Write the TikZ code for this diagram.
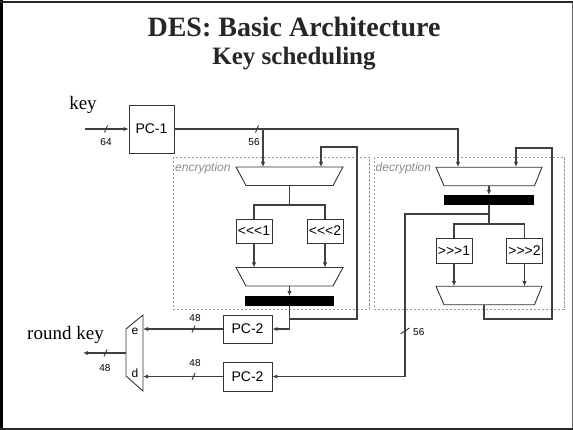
\documentclass[tikz,border=0pt]{standalone}
\usepackage{fontspec}
\setmainfont{Liberation Serif}
\setsansfont{Liberation Sans}
\usetikzlibrary{arrows.meta,calc}

\begin{document}
\begin{tikzpicture}[x=1pt,y=-1pt,
  wire/.style={draw=black!75, line width=1.1pt},
  arr/.style={wire, -{Latex[length=5pt,width=4.5pt]}},
  blk/.style={draw=black!80, line width=0.9pt, fill=white, inner sep=0pt,
              font=\sffamily\fontsize{14}{14}\selectfont},
  muxbb/.style={inner sep=0pt, outer sep=0pt, minimum width=107pt, minimum height=18.5pt},
  muxline/.style={draw=black!80, line width=0.9pt, fill=white},
  keybar/.style={fill=black, inner sep=0pt, outer sep=0pt, minimum width=90pt, minimum height=10pt},
  region/.style={draw=black!40, line width=0.7pt, dash pattern=on 2.5pt off 1.5pt},
  regtag/.style={text=black!45, font=\sffamily\itshape\fontsize{12}{12}\selectfont, inner sep=0pt},
  buswidth/.style={font=\sffamily\fontsize{10}{10}\selectfont, inner sep=0pt},
  slash/.style={draw=black!80, line width=0.9pt},
  lbl/.style={font=\fontsize{19}{19}\selectfont, inner sep=0pt}
]
\useasboundingbox (0,0) rectangle (573,430);

% slide frame
\draw[black!60, line width=1pt] (1,1.5) rectangle (572,428.5);
\draw[black, line width=2.6pt] (1.8,0) -- (1.8,430);
\draw[black!85, line width=1.8pt] (0,1.8) -- (573,1.8);
\draw[black!85, line width=1.8pt] (0,428.6) -- (573,428.6);

% headings
\node[font=\bfseries\fontsize{28}{28}\selectfont, text=black!85, anchor=base, inner sep=0pt]
  (title) at (294,37) {DES: Basic Architecture};
\node[font=\bfseries\fontsize{25}{25}\selectfont, text=black!85, anchor=base, inner sep=0pt]
  (subtitle) at (294,65) {Key scheduling};

% dashed regions
\draw[region] (173,157) rectangle (369,309.5);
\draw[region] (374,157) rectangle (564,309.5);
\node[regtag, anchor=base west] (enctag) at (175,172) {encryption};
\node[regtag, anchor=base west] (dectag) at (375.5,172) {decryption};

% key input and PC-1
\node[lbl, anchor=base] (keytxt) at (83,110) {key};
\node[blk, minimum width=45pt, minimum height=48pt] (pc1) at (151.5,129) {PC-1};
\coordinate (keyin) at (85,129);
\draw[arr] (keyin) -- (pc1.west);
\draw[slash] (106,129) ++(-1.5,3.5) -- ++(3,-7);
\node[buswidth] (w64) at (106,142) {64};

% ---------------- encryption path ----------------
\node[muxbb] (em1) at (289.5,176.25) {};
\draw[muxline] (em1.north west) -- (em1.north east) -- ([xshift=-10pt]em1.south east)
  -- ([xshift=10pt]em1.south west) -- cycle;
\coordinate (em1a) at (263,167);
\coordinate (em1b) at (321,167);

\node[blk, minimum width=36pt, minimum height=24pt] (sl1) at (254,231) {<\kern0pt<\kern0pt<1};
\node[blk, minimum width=36pt, minimum height=24pt] (sl2) at (325,231) {<\kern0pt<\kern0pt<2};

\node[muxbb] (em2) at (289.5,276.75) {};
\draw[muxline] (em2.north west) -- (em2.north east) -- ([xshift=-10pt]em2.south east)
  -- ([xshift=10pt]em2.south west) -- cycle;

\node[keybar, minimum width=89pt] (ebar) at (289.5,301) {};

\node[blk, minimum width=49pt, minimum height=28pt] (pce) at (247.5,329) {PC-2};

\coordinate (esplit) at (289.5,205);
\coordinate (efb) at (289.5,319);
\coordinate (eloop) at (357,147);

\draw[wire] (em1.south) -- (esplit);
\draw[wire] (sl1.north) |- (esplit) -| (sl2.north);
\draw[arr] (sl1.south) -- (sl1.south |- em2.north);
\draw[arr] (sl2.south) -- (sl2.south |- em2.north);
\draw[arr] (em2.south) -- (ebar.north);
\draw[arr] (ebar.south) |- (pce.east);
\draw[arr] (efb) -| (eloop) -| (em1b);

% ---------------- decryption path ----------------
\node[muxbb, minimum width=106pt] (dm1) at (489,176.5) {};
\draw[muxline] (dm1.north west) -- (dm1.north east) -- ([xshift=-7.5pt]dm1.south east)
  -- ([xshift=8pt]dm1.south west) -- cycle;
\coordinate (dm1a) at (458,167);
\coordinate (dm1b) at (516,167);

\node[keybar] (dbar) at (489,200) {};

\node[blk, minimum width=36pt, minimum height=25pt] (ds1) at (454,250.5) {>\kern0pt>\kern0pt>1};
\node[blk, minimum width=36pt, minimum height=25pt] (ds2) at (524.5,250.5) {>\kern0pt>\kern0pt>2};

\node[muxbb, minimum width=106pt] (dm2) at (489,295.5) {};
\draw[muxline] (dm2.north west) -- (dm2.north east) -- ([xshift=-7.5pt]dm2.south east)
  -- ([xshift=8pt]dm2.south west) -- cycle;

\node[blk, minimum width=49pt, minimum height=29pt] (pcd) at (247.5,376.5) {PC-2};

\coordinate (dtap) at (489,214);
\coordinate (dsplit) at (489,224);
\coordinate (dturn) at (405,214);
\coordinate (dfb) at (552,319);
\coordinate (dloop) at (552,148);

\draw[arr] (dm1.south) -- (dbar.north);
\draw[wire] (dbar.south) -- (dsplit);
\draw[wire] (ds1.north) |- (dsplit) -| (ds2.north);
\draw[arr] (ds1.south) -- (ds1.south |- dm2.north);
\draw[arr] (ds2.south) -- (ds2.south |- dm2.north);
\draw[arr] ([xshift=-5pt]dm2.south) |- (dfb) -- (dloop) -| (dm1b);
\draw[arr] (dtap) -- (dturn) |- (pcd.east);
\draw[slash] (405,331) ++(-4.5,3) -- ++(9,-6);
\node[buswidth, anchor=west] (w56b) at (413,332) {56};

% PC-1 output feeding both directions
\draw[arr] (pc1.east) -| (dm1a);
\draw[arr] (em1a |- pc1.east) -- (em1a);
\draw[slash] (257,129) ++(-1.5,3.5) -- ++(3,-7);
\node[buswidth] (w56a) at (254,142) {56};

% ---------------- output selector ----------------
\node[inner sep=0pt, outer sep=0pt, minimum width=17pt, minimum height=76pt] (omux) at (134.5,353) {};
\draw[muxline] ([yshift=-14pt]omux.north west) -- (omux.north east) -- (omux.south east)
  -- ([yshift=15pt]omux.south west) -- cycle;
\node[font=\sffamily\fontsize{12}{12}\selectfont, inner sep=0pt] (esel) at (135,331) {e};
\node[font=\sffamily\fontsize{12}{12}\selectfont, inner sep=0pt] (dsel) at (135,373) {d};
\coordinate (oe) at (143,329);
\coordinate (od) at (143,376.5);
\coordinate (rk) at (83,353);

\draw[arr] (pce.west) -- (oe);
\draw[arr] (pcd.west) -- (od);
\draw[arr] (omux.west) -- (rk);

\draw[slash] (193.5,329) ++(-1.5,3.5) -- ++(3,-7);
\node[buswidth] (w48a) at (195,318) {48};
\draw[slash] (193.5,376.5) ++(-1.5,3.5) -- ++(3,-7);
\node[buswidth] (w48b) at (195,363) {48};
\draw[slash] (105.5,353) ++(-1.5,3.5) -- ++(3,-7);
\node[buswidth] (w48c) at (105,368) {48};

\node[lbl, anchor=base] (rktxt) at (65.5,339) {round key};
\end{tikzpicture}
\end{document}
